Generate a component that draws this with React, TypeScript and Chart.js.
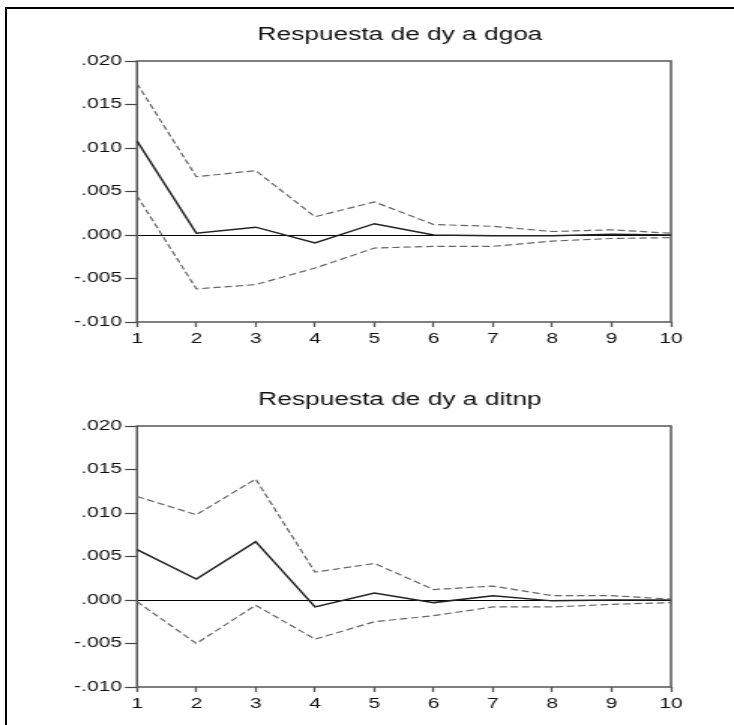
import { useEffect, useRef } from "react";
import { Chart, registerables } from "chart.js";

Chart.register(...registerables);

// ---- data ----
const periods = ["1", "2", "3", "4", "5", "6", "7", "8", "9", "10"];
const yTickValues = [-0.01, -0.005, 0, 0.005, 0.01, 0.015, 0.02];
const yTickLabels = ["-.010", "-.005", ".000", ".005", ".010", ".015", ".020"];

const titleGoa = "Respuesta de dy a dgoa";
const respGoa = [0.0108, 0.0002, 0.0009, -0.0009, 0.0013, 0.0, -0.0001, -0.0001, 0.0001, 0.0];
const upperGoa = [0.0174, 0.0067, 0.0074, 0.0021, 0.0038, 0.0012, 0.001, 0.0004, 0.0006, 0.0002];
const lowerGoa = [0.0045, -0.0062, -0.0057, -0.0038, -0.0015, -0.0013, -0.0013, -0.0007, -0.0004, -0.0003];

const titleItnp = "Respuesta de dy a ditnp";
const respItnp = [0.0058, 0.0024, 0.0067, -0.0008, 0.0008, -0.0003, 0.0005, -0.0001, 0.0, 0.0];
const upperItnp = [0.0119, 0.0098, 0.0139, 0.0032, 0.0042, 0.0012, 0.0016, 0.0005, 0.0005, 0.0001];
const lowerItnp = [-0.0002, -0.005, -0.0006, -0.0045, -0.0025, -0.0018, -0.0008, -0.0008, -0.0005, -0.0003];

// ---- layout (internal canvas is drawn narrow and stretched horizontally) ----
const CSS_W = 734;
const INT_W = 489;
const SX = CSS_W / INT_W;
const PANEL_H = 360;
const FONT = '"Liberation Sans", Arial, sans-serif';

function Panel(props: { title: string; resp: number[]; upper: number[]; lower: number[]; top: number }) {
  const ref = useRef<HTMLCanvasElement | null>(null);
  useEffect(() => {
    const canvas = ref.current;
    if (!canvas) return;
    const title = props.title;
    const chart = new Chart(canvas, {
      type: "line",
      data: {
        labels: periods,
        datasets: [
          {
            data: props.upper,
            borderColor: "#666",
            borderWidth: 1.2,
            borderDash: [5, 2.5],
            pointRadius: 0,
            tension: 0,
          },
          {
            data: props.resp,
            borderColor: "#222",
            borderWidth: 1.5,
            pointRadius: 0,
            tension: 0,
          },
          {
            data: props.lower,
            borderColor: "#666",
            borderWidth: 1.2,
            borderDash: [5, 2.5],
            pointRadius: 0,
            tension: 0,
          },
        ],
      },
      options: {
        responsive: false,
        maintainAspectRatio: false,
        devicePixelRatio: 1,
        animation: false,
        layout: { padding: { left: 0, top: 61, right: INT_W - 671 / SX, bottom: 0 } },
        plugins: { legend: { display: false }, tooltip: { enabled: false }, title: { display: false } },
        scales: {
          x: {
            type: "category",
            offset: false,
            border: { display: false },
            grid: {
              display: true,
              drawOnChartArea: false,
              drawTicks: true,
              tickLength: 5,
              tickColor: "#555",
              tickWidth: 1.3,
            },
            ticks: {
              color: "#111",
              padding: 4,
              maxRotation: 0,
              autoSkip: false,
              font: { family: FONT, size: 14 },
            },
            afterFit: (s: any) => {
              s.height = PANEL_H - 322;
            },
          },
          y: {
            min: -0.01,
            max: 0.02,
            border: { display: false },
            grid: {
              drawOnChartArea: true,
              drawTicks: true,
              tickLength: 8,
              tickColor: "#444",
              tickWidth: 1.2,
              lineWidth: 1,
              color: (c: any) => (c.tick && c.tick.value === 0 ? "#000" : "rgba(0,0,0,0)"),
            },
            afterBuildTicks: (s: any) => {
              s.ticks = yTickValues.map((v) => ({ value: v }));
            },
            ticks: {
              color: "#111",
              padding: 2,
              font: { family: FONT, size: 14 },
              callback: (_v: any, i: number) => yTickLabels[i],
            },
            afterFit: (s: any) => {
              s.width = 137 / SX;
            },
          },
        },
      },
      plugins: [
        {
          id: "frameAndTitle",
          beforeDatasetsDraw(c: any) {
            const { ctx, chartArea: a } = c;
            ctx.save();
            ctx.strokeStyle = "#555";
            ctx.lineWidth = 1.5;
            ctx.strokeRect(a.left, a.top, a.right - a.left, a.bottom - a.top);
            ctx.restore();
          },
          afterDraw(c: any) {
            const ctx = c.ctx;
            ctx.save();
            ctx.font = `17.5px ${FONT}`;
            ctx.fillStyle = "#111";
            ctx.textAlign = "center";
            ctx.textBaseline = "alphabetic";
            ctx.fillText(title, 400 / SX, 40);
            ctx.restore();
          },
        },
      ],
    } as any);
    return () => chart.destroy();
  }, []);
  return (
    <canvas
      ref={ref}
      width={INT_W}
      height={PANEL_H}
      style={{
        position: "absolute",
        left: 0,
        top: props.top,
        width: `${CSS_W}px`,
        height: `${PANEL_H}px`,
      }}
    />
  );
}

export default function App() {
  return (
    <div
      style={{
        position: "absolute",
        left: 0,
        top: 0,
        width: 734,
        height: 725,
        overflow: "hidden",
        background: "#fff",
      }}
    >
      <div
        style={{
          position: "absolute",
          left: 5,
          top: 7,
          width: 800,
          height: 800,
          borderTop: "2px solid #000",
          borderLeft: "2px solid #000",
        }}
      />
      <Panel title={titleGoa} resp={respGoa} upper={upperGoa} lower={lowerGoa} top={0} />
      <Panel title={titleItnp} resp={respItnp} upper={upperItnp} lower={lowerItnp} top={365} />
    </div>
  );
}
